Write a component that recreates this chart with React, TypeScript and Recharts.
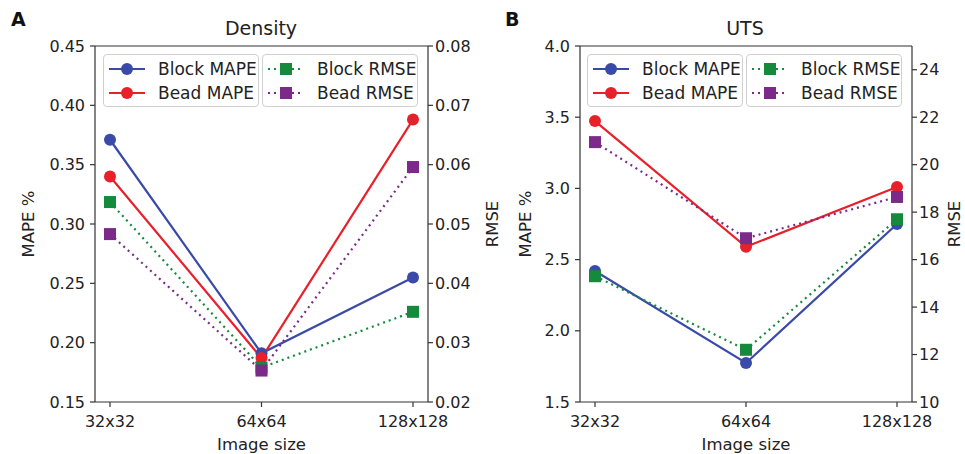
import { LineChart, Line, XAxis, YAxis, Legend, ReferenceLine } from 'recharts';

const categories = ['32x32', '64x64', '128x128'];

const densityBlockMape = [0.371, 0.191, 0.255];
const densityBeadMape = [0.34, 0.187, 0.388];
const densityBlockRmse = [0.0537, 0.0258, 0.0352];
const densityBeadRmse = [0.0483, 0.0253, 0.0596];

const utsBlockMape = [2.42, 1.774, 2.75];
const utsBeadMape = [3.473, 2.59, 3.01];
const utsBlockRmse = [15.3, 12.2, 17.7];
const utsBeadRmse = [20.95, 16.9, 18.64];

const densityLeftTicks = [0.15, 0.2, 0.25, 0.3, 0.35, 0.4, 0.45];
const densityRightTicks = [0.02, 0.03, 0.04, 0.05, 0.06, 0.07, 0.08];
const utsLeftTicks = [1.5, 2.0, 2.5, 3.0, 3.5, 4.0];
const utsRightTicks = [10, 12, 14, 16, 18, 20, 22, 24];

const FONT = '"DejaVu Sans", sans-serif';
const AXIS = '#333';

const series = [
  { key: 'blockMape', name: 'Block MAPE', color: '#3a4aa8', axis: 'left', marker: 'circle' },
  { key: 'beadMape', name: 'Bead MAPE', color: '#e8202a', axis: 'left', marker: 'circle' },
  { key: 'blockRmse', name: 'Block RMSE', color: '#168a3c', axis: 'right', marker: 'square' },
  { key: 'beadRmse', name: 'Bead RMSE', color: '#7b2a8a', axis: 'right', marker: 'square' },
];

function makeRows(bm: number[], dm: number[], br: number[], dr: number[]) {
  return categories.map((c, i) => ({
    size: c,
    blockMape: bm[i],
    beadMape: dm[i],
    blockRmse: br[i],
    beadRmse: dr[i],
  }));
}

function squareDot(color: string) {
  return (p: any) => (
    <rect key={`sq-${p.index}`} x={p.cx - 6} y={p.cy - 6} width={12} height={12} fill={color} />
  );
}

function LegendItem({ s }: { s: (typeof series)[number] }) {
  const dotted = s.marker === 'square';
  return (
    <div style={{ display: 'flex', alignItems: 'center', height: 24 }}>
      <svg width={36} height={16}>
        <line
          x1={0}
          x2={36}
          y1={8}
          y2={8}
          stroke={s.color}
          strokeWidth={2.2}
          strokeDasharray={dotted ? '2 4' : undefined}
        />
        {dotted ? (
          <rect x={12} y={2} width={12} height={12} fill={s.color} />
        ) : (
          <circle cx={18} cy={8} r={6} fill={s.color} />
        )}
      </svg>
      <span style={{ marginLeft: 13, fontSize: 17, color: '#222', whiteSpace: 'nowrap' }}>{s.name}</span>
    </div>
  );
}

function LegendBoxes() {
  const box = {
    width: 156,
    height: 53,
    boxSizing: 'border-box' as const,
    border: '1px solid #d0d0d0',
    borderRadius: 4,
    background: 'rgba(255,255,255,0.85)',
    padding: '2px 0 0 5px',
    fontFamily: FONT,
  };
  return (
    <div style={{ display: 'flex', gap: 3 }}>
      <div style={box}>
        <LegendItem s={series[0]} />
        <LegendItem s={series[1]} />
      </div>
      <div style={box}>
        <LegendItem s={series[2]} />
        <LegendItem s={series[3]} />
      </div>
    </div>
  );
}

interface PanelProps {
  letter: string;
  title: string;
  rows: ReturnType<typeof makeRows>;
  left: number;
  width: number;
  marginLeft: number;
  marginRight: number;
  leftAxisWidth: number;
  rightAxisWidth: number;
  leftLabelOffset: number;
  rightLabelOffset: number;
  leftDomain: [number, number];
  rightDomain: [number, number];
  leftTicks: number[];
  rightTicks: number[];
  leftFmt: (v: number) => string;
  rightFmt: (v: number) => string;
  legendLeft: number;
  titleX: number;
  letterX: number;
}

function Panel(p: PanelProps) {
  const tickStyle = { fontSize: 16, fill: '#222', fontFamily: FONT };
  const labelStyle = { textAnchor: 'middle' as const, fontSize: 16.5, fill: '#222', fontFamily: FONT };
  return (
    <div style={{ position: 'absolute', left: p.left, top: 0, width: p.width, height: 454 }}>
      <div
        style={{
          position: 'absolute',
          left: p.letterX,
          top: 8,
          fontFamily: FONT,
          fontWeight: 'bold',
          fontSize: 19,
          color: '#111',
        }}
      >
        {p.letter}
      </div>
      <div
        style={{
          position: 'absolute',
          left: p.titleX - 60,
          width: 120,
          top: 17,
          textAlign: 'center',
          fontFamily: FONT,
          fontSize: 19,
          color: '#222',
        }}
      >
        {p.title}
      </div>
      <LineChart
        width={p.width}
        height={454}
        data={p.rows}
        margin={{ top: 46, right: p.marginRight, bottom: 2, left: p.marginLeft }}
        style={{ position: 'absolute', left: 0, top: 0 }}
      >
        <XAxis
          dataKey="size"
          height={50}
          padding={{ left: 15, right: 15 }}
          tick={tickStyle}
          tickSize={5}
          tickMargin={9}
          stroke={AXIS}
          strokeWidth={1.2}
          label={{ value: 'Image size', position: 'insideBottom', offset: 2, style: labelStyle }}
        />
        <YAxis
          yAxisId="left"
          width={p.leftAxisWidth}
          domain={p.leftDomain}
          ticks={p.leftTicks}
          tickFormatter={p.leftFmt}
          tick={tickStyle}
          tickSize={5}
          tickMargin={5}
          stroke={AXIS}
          strokeWidth={1.2}
          allowDataOverflow
          label={{
            value: 'MAPE %',
            angle: -90,
            position: 'insideLeft',
            offset: p.leftLabelOffset,
            style: labelStyle,
          }}
        />
        <YAxis
          yAxisId="right"
          orientation="right"
          width={p.rightAxisWidth}
          domain={p.rightDomain}
          ticks={p.rightTicks}
          tickFormatter={p.rightFmt}
          tick={tickStyle}
          tickSize={5}
          tickMargin={2}
          stroke={AXIS}
          strokeWidth={1.2}
          allowDataOverflow
          label={{
            value: 'RMSE',
            angle: -90,
            position: 'insideRight',
            offset: p.rightLabelOffset,
            style: labelStyle,
          }}
        />
        <ReferenceLine yAxisId="left" y={p.leftDomain[1]} stroke={AXIS} strokeWidth={1.2} />
        {series.map((s) =>
          s.marker === 'circle' ? (
            <Line
              key={s.key}
              yAxisId={s.axis}
              dataKey={s.key}
              name={s.name}
              stroke={s.color}
              strokeWidth={2.2}
              dot={{ r: 6, fill: s.color, stroke: s.color, strokeWidth: 0 }}
              activeDot={false}
              isAnimationActive={false}
            />
          ) : (
            <Line
              key={s.key}
              yAxisId={s.axis}
              dataKey={s.key}
              name={s.name}
              stroke={s.color}
              strokeWidth={2.2}
              strokeDasharray="2 4"
              dot={squareDot(s.color)}
              activeDot={false}
              isAnimationActive={false}
            />
          )
        )}
        <Legend
          verticalAlign="middle"
          align="center"
          content={() => <LegendBoxes />}
          wrapperStyle={{ position: 'absolute', left: p.legendLeft, top: 54, width: 320 }}
        />
      </LineChart>
    </div>
  );
}

export default function App() {
  const density = makeRows(densityBlockMape, densityBeadMape, densityBlockRmse, densityBeadRmse);
  const uts = makeRows(utsBlockMape, utsBeadMape, utsBlockRmse, utsBeadRmse);
  return (
    <div style={{ position: 'absolute', left: 0, top: 0, width: 965, height: 454, background: '#fff', fontFamily: FONT }}>
      <Panel
        letter="A"
        title="Density"
        rows={density}
        left={0}
        width={510}
        marginLeft={15}
        marginRight={12}
        leftAxisWidth={80}
        rightAxisWidth={70}
        leftLabelOffset={13}
        rightLabelOffset={6}
        leftDomain={[0.15, 0.45]}
        rightDomain={[0.02, 0.08]}
        leftTicks={densityLeftTicks}
        rightTicks={densityRightTicks}
        leftFmt={(v) => v.toFixed(2)}
        rightFmt={(v) => v.toFixed(2)}
        legendLeft={103}
        titleX={261}
        letterX={11}
      />
      <Panel
        letter="B"
        title="UTS"
        rows={uts}
        left={480}
        width={485}
        marginLeft={20}
        marginRight={3}
        leftAxisWidth={80}
        rightAxisWidth={50}
        leftLabelOffset={25}
        rightLabelOffset={8}
        leftDomain={[1.5, 4.0]}
        rightDomain={[10, 25]}
        leftTicks={utsLeftTicks}
        rightTicks={utsRightTicks}
        leftFmt={(v) => v.toFixed(1)}
        rightFmt={(v) => String(v)}
        legendLeft={107}
        titleX={265}
        letterX={25}
      />
    </div>
  );
}
